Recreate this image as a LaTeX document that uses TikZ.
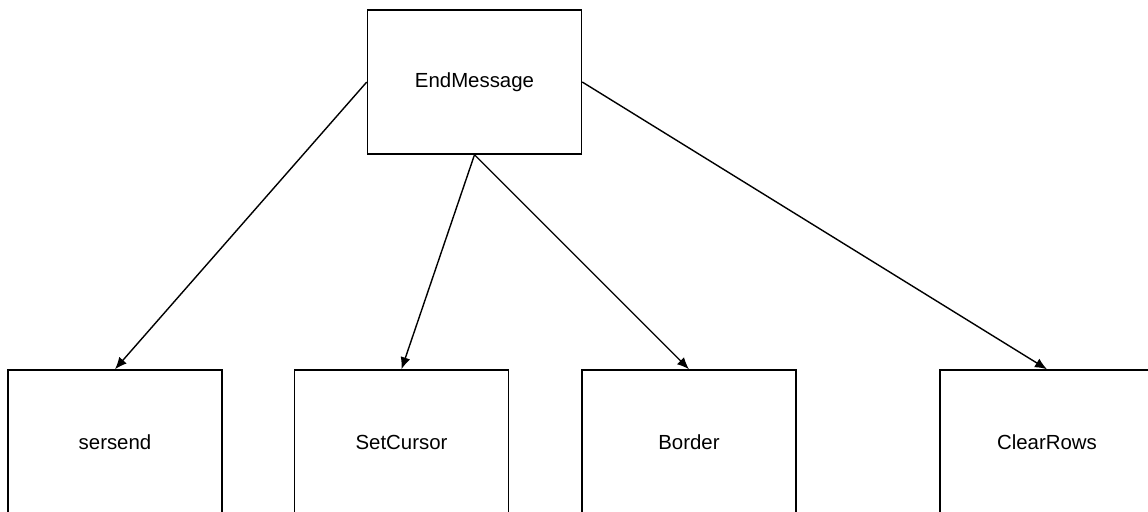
\documentclass[tikz,border=0pt]{standalone}
\usepackage{fontspec}
\setmainfont{Liberation Sans}
\usetikzlibrary{arrows.meta}

\begin{document}
\begin{tikzpicture}[x=0.5pt, y=-0.5pt,
		box/.style={draw, line width=0.75pt, minimum width=107pt, minimum height=72pt, inner sep=0pt, font=\fontsize{10.2}{12}\selectfont},
		call/.style={line width=0.7pt, -{Latex[length=6pt, width=5pt]}}]
				\clip (0,0) rectangle (1148,511);
				\fill[white] (0,0) rectangle (1148,511);

				\node[box] (endmsg) at (474.5,82) {EndMessage};
				\node[box] (sersend) at (115,442) {sersend};
				\node[box] (setcursor) at (401.5,442) {SetCursor};
				\node[box] (border) at (689,442) {Border};
				\node[box] (clearrows) at (1047,442) {ClearRows};

				\draw[call] (endmsg.west) -- (sersend.north);
				\draw[call] (endmsg.south) -- (setcursor.north);
				\draw[call] (endmsg.south) -- (border.north);
				\draw[call] (endmsg.east) -- (clearrows.north);
			\end{tikzpicture}
\end{document}
